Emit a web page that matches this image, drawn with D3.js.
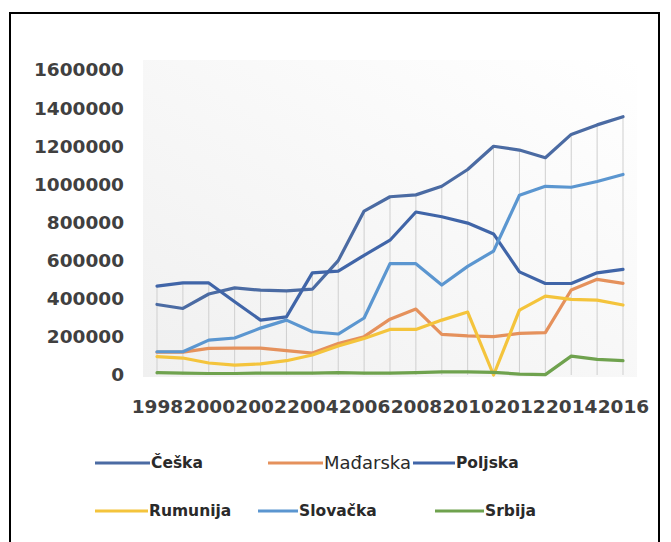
<!DOCTYPE html>
<html>
<head>
<meta charset="utf-8">
<script src="https://cdn.jsdelivr.net/npm/d3@7"></script>
<style>
  body { margin: 0; background: #fff; }
  svg { display: block; }
</style>
</head>
<body>
<svg id="chart" width="671" height="542"></svg>
<script>
// data
let years = [1998, 1999, 2000, 2001, 2002, 2003, 2004, 2005, 2006, 2007,
             2008, 2009, 2010, 2011, 2012, 2013, 2014, 2015, 2016];
let xTickLabels = ["1998", "2000", "2002", "2004", "2006", "2008", "2010", "2012", "2014", "2016"];
let yTicks = [0, 200000, 400000, 600000, 800000, 1000000, 1200000, 1400000, 1600000];

let seriesNames = ["Češka", "Mađarska", "Poljska", "Rumunija", "Slovačka", "Srbija"];

let ceska    = [370000, 349000, 425000, 457000, 445000, 441000, 450000, 600000, 860000, 935000,
                945000, 990000, 1078000, 1200000, 1180000, 1140000, 1262000, 1312000, 1355000];
let madarska = [120000, 120000, 140000, 141000, 141000, 128000, 115000, 165000, 201000, 293000,
                346000, 213000, 205000, 201000, 218000, 222000, 446000, 502000, 481000];
let poljska  = [466000, 483000, 483000, 384000, 288000, 305000, 536000, 545000, 628000, 707000,
                855000, 830000, 797000, 740000, 541000, 480000, 480000, 536000, 554000];
let rumunija = [96000, 89000, 63000, 52000, 58000, 75000, 105000, 152000, 192000, 239000,
                239000, 288000, 330000, 0, 340000, 414000, 397000, 393000, 367000];
let slovacka = [122000, 122000, 183000, 194000, 246000, 288000, 227000, 215000, 299000, 584000,
                584000, 472000, 570000, 650000, 943000, 990000, 985000, 1015000, 1052000];
let srbija   = [12000, 10000, 8000, 8000, 10000, 10000, 10000, 12000, 10000, 10000,
                12000, 16000, 16000, 14000, 5000, 2000, 99000, 82000, 75000];

let colors = {
  "Češka": "#4b6ba3",
  "Mađarska": "#e5915c",
  "Poljska": "#4065a8",
  "Rumunija": "#f4c43c",
  "Slovačka": "#5b96d0",
  "Srbija": "#6fa24e"
};

let allSeries = [ceska, madarska, poljska, rumunija, slovacka, srbija].map((vals, i) => ({
  name: seriesNames[i],
  values: vals.map((v, j) => ({ year: years[j], value: v }))
}));

let svg = d3.select("#chart");

// outer frame
svg.append("rect")
  .attr("x", 10).attr("y", 13)
  .attr("width", 649).attr("height", 540)
  .attr("fill", "white")
  .attr("stroke", "black")
  .attr("stroke-width", 2);

// plot area gradient
let grad = svg.append("defs").append("linearGradient")
  .attr("id", "plotBg")
  .attr("x1", "100%").attr("y1", "0%")
  .attr("x2", "0%").attr("y2", "100%");
grad.append("stop").attr("offset", "0%").attr("stop-color", "#ffffff");
grad.append("stop").attr("offset", "100%").attr("stop-color", "#f0f0f0");

svg.append("rect")
  .attr("x", 143).attr("y", 60)
  .attr("width", 494).attr("height", 317)
  .attr("fill", "url(#plotBg)");

let xScale = d3.scaleLinear()
  .domain([1998, 2016])
  .range([157, 623]);

let yScale = d3.scaleLinear()
  .domain([0, 1600000])
  .range([375, 70]);

// drop lines from highest point down to the axis
svg.selectAll(".drop")
  .data(years)
  .join("line")
  .attr("class", "drop")
  .attr("x1", d => xScale(d))
  .attr("x2", d => xScale(d))
  .attr("y1", (d, i) => yScale(d3.max(allSeries, s => s.values[i].value)))
  .attr("y2", yScale(0))
  .attr("stroke", "#cfcfcf")
  .attr("stroke-width", 1);

// y axis labels
svg.append("g")
  .attr("transform", "translate(124,0)")
  .call(d3.axisLeft(yScale)
    .tickValues(yTicks)
    .tickFormat(d3.format("d"))
    .tickSize(0)
    .tickPadding(0))
  .call(g => g.select(".domain").remove())
  .selectAll("text")
  .style("font-family", "DejaVu Sans")
  .style("font-weight", "bold")
  .style("font-size", "18.5px")
  .attr("fill", "#404040");

// x axis labels (every other year)
svg.append("g")
  .attr("transform", "translate(0,400)")
  .call(d3.axisBottom(xScale)
    .tickValues(xTickLabels.map(Number))
    .tickFormat(d3.format("d"))
    .tickSize(0)
    .tickPadding(0))
  .call(g => g.select(".domain").remove())
  .selectAll("text")
  .style("font-family", "DejaVu Sans")
  .style("font-weight", "bold")
  .style("font-size", "18.5px")
  .attr("fill", "#404040");

let line = d3.line()
  .x(d => xScale(d.year))
  .y(d => yScale(d.value));

svg.selectAll(".series")
  .data(allSeries)
  .join("path")
  .attr("class", "series")
  .attr("d", d => line(d.values))
  .attr("fill", "none")
  .attr("stroke", d => colors[d.name])
  .attr("stroke-width", 3.2)
  .attr("stroke-linejoin", "round")
  .attr("stroke-linecap", "round");

// legend
let legendItems = [
  { name: "Češka",    x1: 95,  x2: 150, y: 463, big: false },
  { name: "Mađarska", x1: 268, x2: 323, y: 463, big: true },
  { name: "Poljska",  x1: 413, x2: 455, y: 463, big: false },
  { name: "Rumunija", x1: 95,  x2: 148, y: 511, big: false },
  { name: "Slovačka", x1: 258, x2: 298, y: 511, big: false },
  { name: "Srbija",   x1: 435, x2: 484, y: 511, big: false }
];

let legend = svg.selectAll(".legend")
  .data(legendItems)
  .join("g")
  .attr("class", "legend");

legend.append("line")
  .attr("x1", d => d.x1).attr("x2", d => d.x2)
  .attr("y1", d => d.y).attr("y2", d => d.y)
  .attr("stroke", d => colors[d.name])
  .attr("stroke-width", 3.2);

legend.append("text")
  .attr("x", d => d.x2 + 1)
  .attr("y", d => d.y)
  .attr("dy", "0.35em")
  .text(d => d.name)
  .style("font-family", "DejaVu Sans")
  .style("font-weight", d => d.big ? "normal" : "bold")
  .style("font-size", d => d.big ? "18px" : "15.5px")
  .attr("fill", "#2a2a2a");
</script>
</body>
</html>
